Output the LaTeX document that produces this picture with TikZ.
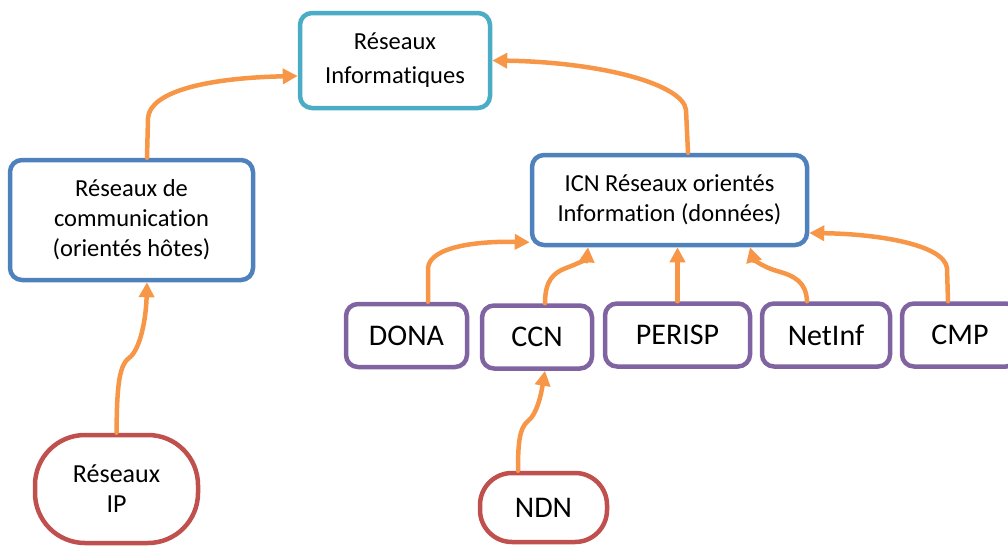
\documentclass[tikz,border=0pt]{standalone}
\usepackage{fontspec}
\setmainfont{Carlito}[Ligatures={NoCommon,NoRequired,NoContextual}]
\usetikzlibrary{arrows.meta,calc}

\definecolor{tealline}{HTML}{4BACC6}
\definecolor{blueline}{HTML}{4F81BD}
\definecolor{purpleline}{HTML}{8064A2}
\definecolor{redline}{HTML}{C0504D}
\definecolor{arrowline}{HTML}{F79646}

\tikzset{
  box/.style={draw, line width=4.5pt, rounded corners=12pt, fill=white,
    align=center, inner sep=0pt, text=black},
  upper/.style={box, font=\fontsize{24.5}{30}\selectfont},
  proto/.style={box, draw=purpleline, minimum height=63pt,
    font=\fontsize{30}{34}\selectfont},
  rootbox/.style={box, draw=redline},
  link/.style={draw=arrowline, line width=4.5pt, line cap=round,
    line join=round, -{Triangle[length=15pt,width=15pt]}}
}

\begin{document}
\begin{tikzpicture}[x=1pt,y=-1pt]
\useasboundingbox (0,0) rectangle (1008,546);
\clip (0,0) rectangle (1008,546);

% hierarchy of network families
\node[upper, draw=tealline, minimum width=190pt, minimum height=95pt,
  font=\fontsize{24.5}{34}\selectfont]
  (info) at (395,60.5) {Réseaux\\Informatiques};
\node[upper, draw=blueline, minimum width=243pt, minimum height=120pt]
  (comm) at (131.5,220) {Réseaux de\\communication\\(orientés hôtes)};
\node[upper, draw=blueline, minimum width=275pt, minimum height=90pt]
  (icn) at (669.5,200) {ICN Réseaux orientés\\Information (données)};

% ICN architectures
\node[proto, minimum width=121pt] (dona)   at (406.5,335.5) {DONA};
\node[proto, minimum width=110pt] (ccn)    at (537,337)     {CCN};
\node[proto, minimum width=145pt] (perisp) at (677.5,335)   {PERISP};
\node[proto, minimum width=128pt] (netinf) at (826,335)     {NetInf};
\node[proto, minimum width=116pt] (cmp)    at (960,335)     {CMP};

% concrete networks
\node[rootbox, rounded corners=50pt, minimum width=163pt, minimum height=108pt,
  font=\fontsize{26}{30}\selectfont]
  (ip) at (116.5,489) {Réseaux\\IP};
\node[rootbox, rounded corners=32pt, minimum width=127pt, minimum height=69pt,
  font=\fontsize{30}{34}\selectfont]
  (ndn) at (543.5,507.5) {NDN};

% connectors
\draw[link] ([xshift=15.5pt]comm.north) -- (148,118)
  .. controls (150,92) and (205,78) .. ([yshift=-15.5pt]info.west);
\draw[link] ([xshift=18.5pt]icn.north) -- (686,110)
  .. controls (683,84) and (600,62) .. (info.east);
\draw[link] (ip.north) .. controls (117,392) and (118,366) .. (129,358)
  .. controls (140,350) and (146,320) .. ([xshift=15.5pt]comm.south);

\draw[link] ([xshift=21.5pt]dona.north) -- (428,268)
  .. controls (430,246) and (480,241) .. ([yshift=5pt]icn.south west);
\draw[link] ([xshift=8pt]ccn.north) .. controls (545,281) and (553,273) .. (566,268)
  .. controls (580,263) and (587,258) .. ([xshift=-81.5pt]icn.south);
\draw[link] (perisp.north) -- (perisp.north |- icn.south);
\draw[link] ([xshift=-19pt]netinf.north) .. controls (806,282) and (795,276) .. (777,271)
  .. controls (760,266) and (753,258) .. ([xshift=80.5pt]icn.south);
\draw[link] ([xshift=-12pt]cmp.north) -- (947,268)
  .. controls (944,245) and (880,234) .. ([yshift=-33pt]icn.east);
\draw[link] ([xshift=-25.5pt]ndn.north) .. controls (518,445) and (519,428) .. (528,421)
  .. controls (537,414) and (541,395) .. ([xshift=8pt]ccn.south);
\end{tikzpicture}
\end{document}
